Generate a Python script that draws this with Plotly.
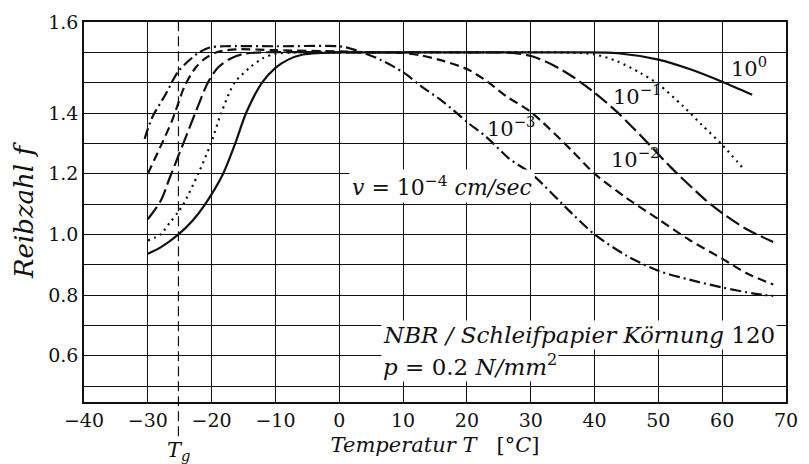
import plotly.graph_objects as go

# ---- data ----
# v = 10^0 cm/sec (solid)
T_v0 = [-30, -28, -25.2, -23, -21, -18.2, -16.3, -14.6, -12.1, -10, -8, -5.7, -3, 0, 10, 20, 30, 38, 43.6, 50, 55, 60, 64.7]
f_v0 = [0.936, 0.957, 1.0, 1.045, 1.1, 1.2, 1.3, 1.4, 1.5, 1.549, 1.576, 1.593, 1.598, 1.6, 1.6, 1.6, 1.6, 1.6, 1.597, 1.576, 1.544, 1.503, 1.46]

# v = 10^-1 (dotted)
T_v1 = [-30, -28, -26.5, -25.2, -24.4, -22.1, -20.1, -18.5, -16.4, -14, -12, -10, -7, 0, 20, 35, 40, 43.5, 47.1, 50, 53.8, 56.9, 60, 63.3]
f_v1 = [0.98, 1.0, 1.04, 1.075, 1.1, 1.2, 1.3, 1.4, 1.5, 1.55, 1.58, 1.595, 1.6, 1.6, 1.6, 1.6, 1.593, 1.571, 1.533, 1.495, 1.424, 1.359, 1.295, 1.217]

# v = 10^-2 (long dash)
T_v2 = [-30, -28, -26.5, -25, -23.5, -22, -20.6, -19, -17, -15, -12, 0, 20, 27.2, 30.2, 33.3, 36.4, 40, 43.6, 48.4, 52, 57.4, 60, 64, 68]
f_v2 = [1.05, 1.11, 1.19, 1.27, 1.35, 1.43, 1.5, 1.55, 1.58, 1.595, 1.6, 1.6, 1.6, 1.598, 1.587, 1.56, 1.522, 1.467, 1.402, 1.3, 1.22, 1.113, 1.07, 1.015, 0.975]

# v = 10^-3 (dashed)
T_v3 = [-30, -28, -26.2, -24.2, -22.5, -21, -19, -16, -10, 0, 5, 10, 12.8, 16.4, 20.1, 23.1, 26.1, 30.1, 36.4, 40, 45, 50, 55, 60, 64, 68]
f_v3 = [1.2, 1.29, 1.375, 1.49, 1.55, 1.58, 1.602, 1.61, 1.607, 1.603, 1.6, 1.598, 1.59, 1.571, 1.544, 1.505, 1.456, 1.402, 1.277, 1.2, 1.12, 1.05, 0.98, 0.92, 0.87, 0.835]

# v = 10^-4 (dash-dot)
T_v4 = [-30.5, -29.3, -27.2, -25.2, -22.1, -20.3, -18, -10, 0, 1.5, 3.6, 6.5, 10.1, 12.8, 16.4, 20.1, 23.1, 26.6, 30.1, 36.4, 40, 45, 50, 55, 60, 65, 68]
f_v4 = [1.315, 1.386, 1.462, 1.538, 1.598, 1.616, 1.62, 1.62, 1.62, 1.614, 1.6, 1.575, 1.533, 1.489, 1.435, 1.369, 1.32, 1.25, 1.2, 1.07, 1.0, 0.93, 0.88, 0.85, 0.825, 0.805, 0.797]

T_g = -25.2

x_ticks = [-40, -30, -20, -10, 0, 10, 20, 30, 40, 50, 60, 70]
x_ticktext = ["\u221240", "\u221230", "\u221220", "\u221210", "0", "10", "20", "30", "40", "50", "60", "70"]
y_ticks = [0.6, 0.8, 1.0, 1.2, 1.4, 1.7]
y_ticktext = ["0.6", "0.8", "1.0", "1.2", "1.4", "1.6"]
y_minor_grid = [0.5, 0.7, 0.9, 1.1, 1.3, 1.5, 1.6]

FONT = "DejaVu Serif"
INK = "#111111"

series = [
    (T_v0, f_v0, "solid", "10^0"),
    (T_v1, f_v1, "2px,4.5px", "10^-1"),
    (T_v2, f_v2, "15px,5px", "10^-2"),
    (T_v3, f_v3, "9px,5px", "10^-3"),
    (T_v4, f_v4, "11px,4px,2px,4px", "10^-4"),
]

fig = go.Figure()
for T, f, dash, name in series:
    fig.add_trace(go.Scatter(x=T, y=f, mode="lines", name=name,
                             line=dict(color=INK, width=2.2, dash=dash, shape="spline", smoothing=0.8),
                             showlegend=False, hoverinfo="skip"))

# glass transition marker
fig.add_shape(type="line", xref="x", yref="paper", x0=T_g, x1=T_g, y0=-0.09, y1=1,
              line=dict(color=INK, width=1.2, dash="10px,5px"))
fig.add_annotation(x=T_g, xref="x", y=-0.128, yref="paper", text="<i>T<sub>g</sub></i>",
                   showarrow=False, yanchor="middle", font=dict(family=FONT, size=21, color=INK))

lab = dict(showarrow=False, xanchor="left", yanchor="middle", font=dict(family=FONT, size=21, color=INK))
fig.add_annotation(x=61.0, y=1.551, text="10<sup>0</sup>", **lab)
fig.add_annotation(x=42.5, y=1.46, text="10<sup>\u22121</sup>", **lab)
fig.add_annotation(x=42.3, y=1.251, text="10<sup>\u22122</sup>", **lab)
fig.add_annotation(x=22.8, y=1.355, text="10<sup>\u22123</sup>", **lab)
fig.add_annotation(x=1.6, y=1.16, text="<i>v</i> = 10<sup>\u22124</sup> <i>cm/sec</i>",
                   bgcolor="white", borderpad=2, showarrow=False, xanchor="left", yanchor="middle",
                   font=dict(family=FONT, size=22, color=INK))
fig.add_annotation(x=6.6, y=0.667, text="<i>NBR / Schleifpapier K\u00f6rnung</i> 120",
                   bgcolor="white", borderpad=1, showarrow=False, xanchor="left", yanchor="middle",
                   font=dict(family=FONT, size=23, color=INK))
fig.add_annotation(x=6.6, y=0.571, text="<i>p</i> = 0.2 <i>N/mm</i><sup>2</sup>",
                   bgcolor="white", borderpad=1, showarrow=False, xanchor="left", yanchor="middle",
                   font=dict(family=FONT, size=23, color=INK))

axis_common = dict(showline=True, linecolor=INK, linewidth=1.6, mirror=True,
                   showgrid=True, gridcolor=INK, gridwidth=1.4, zeroline=False,
                   ticks="", tickfont=dict(family=FONT, size=19, color=INK))

fig.update_xaxes(range=[-40, 70], tickmode="array", tickvals=x_ticks, ticktext=x_ticktext,
                 ticklabelstandoff=0,
                 title=dict(text="<i>Temperatur T</i>\u00a0\u00a0\u00a0[\u00b0<i>C</i>]",
                            font=dict(family=FONT, size=21, color=INK), standoff=8),
                 **axis_common)
fig.update_yaxes(range=[0.4475, 1.7], tickmode="array", tickvals=y_ticks, ticktext=y_ticktext,
                 minor=dict(tickmode="array", tickvals=y_minor_grid, showgrid=True,
                            gridcolor=INK, gridwidth=1.4, ticks=""),
                 title=dict(text="<i>Reibzahl f</i>", font=dict(family=FONT, size=26, color=INK), standoff=7),
                 **axis_common)

fig.update_layout(width=809, height=464, margin=dict(l=84, r=11, t=20, b=60),
                  plot_bgcolor="white", paper_bgcolor="white")

fig.write_html("out.html")
